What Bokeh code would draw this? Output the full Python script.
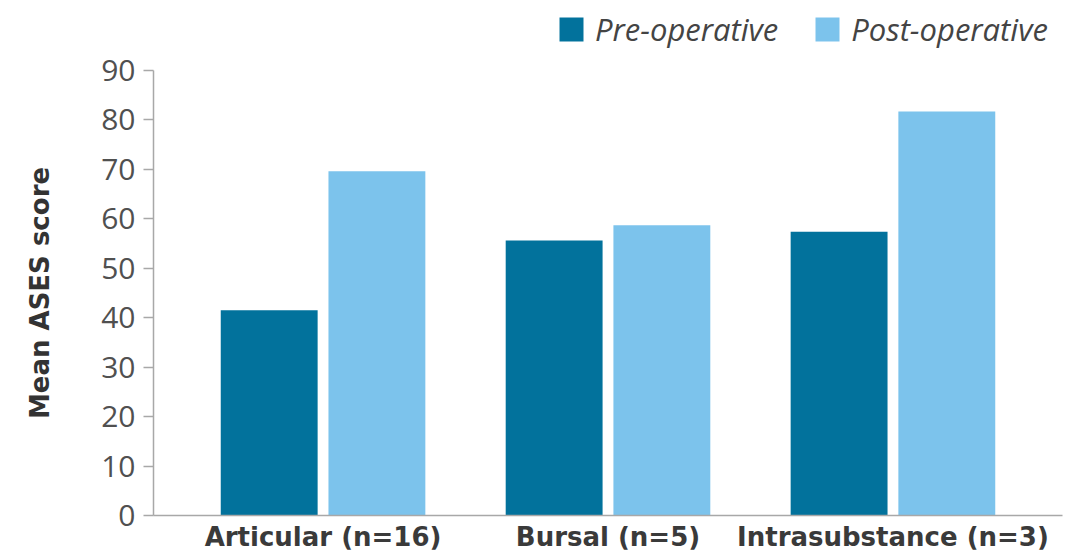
from bokeh.plotting import figure
from bokeh.layouts import column
from bokeh.models import ColumnDataSource, FactorRange, Range1d, Legend, LegendItem, FixedTicker
from bokeh.transform import dodge
from bokeh.embed import file_html
from bokeh.resources import INLINE

categories = ["Articular (n=16)", "Bursal (n=5)", "Intrasubstance (n=3)"]
pre_operative = [41.5, 55.6, 57.4]
post_operative = [69.6, 58.7, 81.7]
series_names = ["Pre-operative", "Post-operative"]
y_ticks = [0, 10, 20, 30, 40, 50, 60, 70, 80, 90]

PRE_COLOR = "#02729C"
POST_COLOR = "#7CC3EC"

source = ColumnDataSource(dict(cat=categories, pre=pre_operative, post=post_operative))

p = figure(
    frame_width=909, frame_height=445,
    x_range=FactorRange(factors=categories, range_padding=0.095, range_padding_units="absolute"),
    y_range=Range1d(0, 90),
    output_backend="svg", toolbar_location=None,
    min_border_left=153, min_border_right=4, min_border_top=20, min_border_bottom=0,
)

p.vbar(x=dodge("cat", -0.189, range=p.x_range), top="pre", width=0.34,
       source=source, fill_color=PRE_COLOR, line_color=None)
p.vbar(x=dodge("cat", 0.189, range=p.x_range), top="post", width=0.34,
       source=source, fill_color=POST_COLOR, line_color=None)

p.outline_line_color = None
p.xgrid.visible = False
p.ygrid.visible = False

AXIS_COLOR = "#a8a8a8"

p.yaxis.ticker = FixedTicker(ticks=y_ticks)
p.yaxis.axis_line_color = AXIS_COLOR
p.yaxis.axis_line_width = 1.5
p.yaxis.major_tick_line_color = AXIS_COLOR
p.yaxis.major_tick_line_width = 1.5
p.yaxis.major_tick_out = 10
p.yaxis.major_tick_in = 0
p.yaxis.minor_tick_line_color = None
p.yaxis.major_label_text_font = "Open Sans"
p.yaxis.major_label_text_font_size = "30px"
p.yaxis.major_label_text_color = "#505050"
p.yaxis.major_label_standoff = 8
p.yaxis.axis_label = "Mean ASES score"
p.yaxis.axis_label_text_font = "DejaVu Sans"
p.yaxis.axis_label_text_font_style = "bold"
p.yaxis.axis_label_text_font_size = "26px"
p.yaxis.axis_label_text_color = "#333333"
p.yaxis.axis_label_standoff = 43

p.xaxis.axis_line_color = AXIS_COLOR
p.xaxis.axis_line_width = 1.5
p.xaxis.major_tick_line_color = None
p.xaxis.minor_tick_line_color = None
p.xaxis.major_label_text_font = "DejaVu Sans"
p.xaxis.major_label_text_font_style = "bold"
p.xaxis.major_label_text_font_size = "26px"
p.xaxis.major_label_text_color = "#3a3a3a"
p.xaxis.major_label_standoff = 0

# legend strip above the chart (swatch renderers sit outside the strip's visible range)
lg = figure(
    frame_width=1066, frame_height=50,
    x_range=Range1d(0, 1), y_range=Range1d(0, 1),
    x_axis_type=None, y_axis_type=None,
    output_backend="svg", toolbar_location=None,
    min_border_left=0, min_border_right=0, min_border_top=0, min_border_bottom=0,
)
lg.outline_line_color = None
lg.xgrid.visible = False
lg.ygrid.visible = False
sw_pre = lg.vbar(x=[-5], top=[0], width=0.1, fill_color=PRE_COLOR, line_color=None)
sw_post = lg.vbar(x=[-5], top=[0], width=0.1, fill_color=POST_COLOR, line_color=None)

legend = Legend(
    items=[LegendItem(label=series_names[0], renderers=[sw_pre]),
           LegendItem(label=series_names[1], renderers=[sw_post])],
    orientation="horizontal", location=(556, 0),
    label_text_font="Open Sans", label_text_font_style="italic",
    label_text_font_size="31px", label_text_color="#444444",
    glyph_width=30, glyph_height=30, label_standoff=9, spacing=34,
    border_line_color=None, background_fill_alpha=0,
    margin=0, padding=0,
)
lg.add_layout(legend, "center")

layout = column(lg, p, spacing=0)
open("out.html", "w").write(file_html(layout, INLINE))
